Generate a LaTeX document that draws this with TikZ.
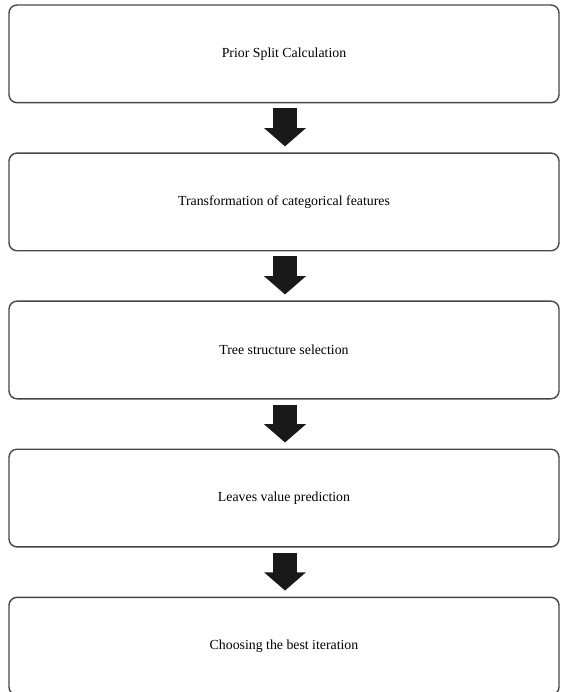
\documentclass[tikz,border=0pt]{standalone}
\usepackage{fontspec}
\setmainfont{Liberation Serif}
\usepackage{tikz}
\usetikzlibrary{positioning, arrows.meta}

\begin{document}
\begin{tikzpicture}[font=\fontsize{11.8}{14}\selectfont,
  stage/.style={draw=black!72, line width=1.2pt, rounded corners=0.24cm,
    minimum width=16.5cm, minimum height=2.93cm, inner sep=0pt},
  blockarrow/.style={draw=black!90, line width=0.72cm,
    -{Triangle[width=1.23cm, length=0.55cm]}, shorten <=0.15cm, shorten >=0.18cm},
  node distance=1.47cm]
\useasboundingbox (0,0) rectangle (16.8,-20.76);
\node[stage] (prior) at (8.52,-1.615) {Prior Split Calculation};
\node[stage, below=of prior] (transform) {Transformation of categorical features};
\node[stage, below=of transform] (tree) {Tree structure selection};
\node[stage, below=of tree] (leaves) {Leaves value prediction};
\node[stage, below=of leaves] (choose) {Choosing the best iteration};
\foreach \a/\b in {prior/transform, transform/tree, tree/leaves, leaves/choose}
  \draw[blockarrow] ([xshift=0.03cm]\a.south) -- ([xshift=0.03cm]\b.north);
\end{tikzpicture}
\end{document}
